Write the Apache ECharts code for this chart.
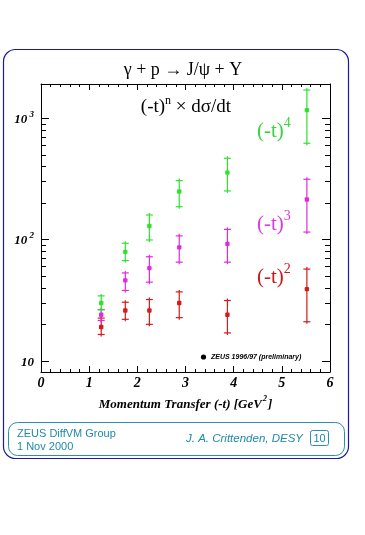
<!DOCTYPE html>
<html><head><meta charset="utf-8">
<script src="https://cdn.jsdelivr.net/npm/echarts@6/dist/echarts.min.js"></script>
<style>html,body{margin:0;padding:0;background:#fff}#c{width:365px;height:535px}</style>
</head><body><div id="c"></div>
<script>
// ---- data ----
const tValues = [1.25, 1.75, 2.25, 2.87, 3.87, 5.52];
// (-t)^2 x dsigma/dt  (red)
const n2Val = [19, 26, 26, 30, 24, 39];
const n2Lo  = [16.5, 22, 20, 22.7, 17, 21];
const n2Hi  = [22.5, 30.4, 32, 37, 31.4, 57];
// (-t)^3 x dsigma/dt  (magenta)
const n3Val = [24, 46, 58, 86, 92, 213];
const n3Lo  = [21.5, 38, 44.5, 65, 65, 115];
const n3Hi  = [26.5, 53, 72, 107, 121, 313];
// (-t)^4 x dsigma/dt  (green)
const n4Val = [30, 79, 129, 248, 355, 1160];
const n4Lo  = [26.3, 67, 99, 186, 251, 620];
const n4Hi  = [34.3, 93, 159, 305, 466, 1700];
const xTicks = [0, 1, 2, 3, 4, 5, 6];
const yMajorTicks = [10, 100, 1000];
const yMinorTicks = [20, 30, 40, 50, 60, 70, 80, 90, 200, 300, 400, 500, 600, 700, 800, 900];

const chart = echarts.init(document.getElementById('c'), null, {renderer: 'canvas'});
const serif = "'Liberation Serif', 'DejaVu Serif', serif";
const sans = "'Liberation Sans', 'DejaVu Sans', sans-serif";

function rows(v, lo, hi) { return tValues.map((t, i) => [t, v[i], lo[i], hi[i]]); }

function errRender(color) {
  return function (params, api) {
    const t = api.value(0);
    const p = api.coord([t, api.value(1)]);
    const pl = api.coord([t, api.value(2)]);
    const ph = api.coord([t, api.value(3)]);
    const cap = 3.5, ext = 2;
    const st = {stroke: color, lineWidth: 1.2};
    return {type: 'group', children: [
      {type: 'line', shape: {x1: p[0], y1: ph[1] - ext, x2: p[0], y2: pl[1] + ext}, style: st},
      {type: 'line', shape: {x1: p[0] - cap, y1: ph[1], x2: p[0] + cap, y2: ph[1]}, style: st},
      {type: 'line', shape: {x1: p[0] - cap, y1: pl[1], x2: p[0] + cap, y2: pl[1]}, style: st},
      {type: 'rect', shape: {x: p[0] - 2.2, y: p[1] - 2.2, width: 4.4, height: 4.4, r: 1}, style: {fill: color}}
    ]};
  };
}

function minorRender(params, api) {
  const v = api.value(1);
  const l = api.coord([0, v]);
  const r = api.coord([6, v]);
  const y = Math.round(l[1]) + 0.5;
  const st = {stroke: '#000', lineWidth: 1};
  return {type: 'group', children: [
    {type: 'line', shape: {x1: l[0], y1: y, x2: l[0] + 5, y2: y}, style: st},
    {type: 'line', shape: {x1: r[0] - 5, y1: y, x2: r[0], y2: y}, style: st}
  ]};
}

const axisLabelFont = {fontFamily: serif, fontWeight: 'bold', fontStyle: 'italic', color: '#000'};

const option = {
  animation: false,
  backgroundColor: '#fff',
  grid: {left: 41, top: 84, width: 289, height: 288, show: false},
  xAxis: [{
    type: 'value', min: 0, max: 6, interval: 1, position: 'bottom',
    axisLine: {show: true, onZero: false, lineStyle: {color: '#000', width: 1}},
    axisTick: {show: true, inside: true, length: 6, lineStyle: {color: '#000'}},
    minorTick: {show: true, splitNumber: 5, length: 3, lineStyle: {color: '#000'}},
    splitLine: {show: false},
    axisLabel: Object.assign({fontSize: 14, margin: 4, formatter: v => xTicks.indexOf(v) >= 0 ? String(v) : ''}, axisLabelFont),
    name: '{m|Momentum Transfer (-t) [GeV}{s|2}{m|]}', nameLocation: 'middle', nameGap: 15,
    nameTextStyle: {rich: {
      m: Object.assign({fontSize: 13, lineHeight: 16, verticalAlign: 'bottom'}, axisLabelFont),
      s: Object.assign({fontSize: 8, lineHeight: 16, verticalAlign: 'top', padding: [0, 1, 0, 1]}, axisLabelFont)
    }}
  }, {
    type: 'value', min: 0, max: 6, interval: 1, position: 'top',
    axisLine: {show: true, onZero: false, lineStyle: {color: '#000', width: 1}},
    axisTick: {show: true, inside: true, length: 6, lineStyle: {color: '#000'}},
    minorTick: {show: true, splitNumber: 5, length: 3, lineStyle: {color: '#000'}},
    splitLine: {show: false}, axisLabel: {show: false}
  }],
  yAxis: [{
    type: 'log', logBase: 10, min: 8.1, max: 1905, position: 'left',
    axisLine: {show: true, onZero: false, lineStyle: {color: '#000', width: 1}},
    axisTick: {show: true, inside: true, length: 8, lineStyle: {color: '#000'}},
    splitLine: {show: false},
    axisLabel: {
      margin: 7,
      formatter: function (v) {
        const r = Math.round(v);
        if (Math.abs(v - r) > 1e-6 || yMajorTicks.indexOf(r) < 0) return '';
        if (r === 10) return '{b|10}';
        return '{b|10}{s| ' + Math.round(Math.log10(r)) + '}';
      },
      rich: {
        b: Object.assign({fontSize: 13, lineHeight: 16, verticalAlign: 'bottom'}, axisLabelFont),
        s: Object.assign({fontSize: 9, lineHeight: 16, verticalAlign: 'top'}, axisLabelFont)
      }
    }
  }, {
    type: 'log', logBase: 10, min: 8.1, max: 1905, position: 'right',
    axisLine: {show: true, onZero: false, lineStyle: {color: '#000', width: 1}},
    axisTick: {show: true, inside: true, length: 8, lineStyle: {color: '#000'}},
    splitLine: {show: false}, axisLabel: {show: false}
  }],
  series: [
    {type: 'custom', xAxisIndex: 0, yAxisIndex: 0, data: yMinorTicks.map(v => [3, v]), encode: {x: 0, y: 1}, renderItem: minorRender, clip: false, z: 5},
    {type: 'custom', name: 'n2', xAxisIndex: 0, yAxisIndex: 0, data: rows(n2Val, n2Lo, n2Hi), encode: {x: 0, y: [1, 2, 3]}, renderItem: errRender('#d41a1a'), clip: false},
    {type: 'custom', name: 'n3', xAxisIndex: 0, yAxisIndex: 0, data: rows(n3Val, n3Lo, n3Hi), encode: {x: 0, y: [1, 2, 3]}, renderItem: errRender('#e02ae0'), clip: false},
    {type: 'custom', name: 'n4', xAxisIndex: 0, yAxisIndex: 0, data: rows(n4Val, n4Lo, n4Hi), encode: {x: 0, y: [1, 2, 3]}, renderItem: errRender('#2ee22e'), clip: false}
  ],
  graphic: [
    // outer frame
    {type: 'rect', z: -10, shape: {x: 3.5, y: 49.5, width: 345, height: 409, r: 12}, style: {fill: 'none', stroke: '#1a1aa0', lineWidth: 1.2}},
    // footer box
    {type: 'rect', shape: {x: 8.5, y: 422.5, width: 336, height: 33, r: 9}, style: {fill: 'none', stroke: '#2a8fb0', lineWidth: 1}},
    {type: 'rect', shape: {x: 310.5, y: 430.5, width: 18, height: 15, r: 2}, style: {fill: 'none', stroke: '#2a8fb0', lineWidth: 1}},
    {type: 'text', x: 319.5, y: 438.5, style: {text: '10', font: '11px ' + sans, fill: '#1f8aa8', align: 'center', verticalAlign: 'middle'}},
    {type: 'text', x: 17, y: 434, style: {text: 'ZEUS DiffVM Group', font: '11px ' + sans, fill: '#1f8aa8', verticalAlign: 'middle'}},
    {type: 'text', x: 17, y: 447, style: {text: '1 Nov 2000', font: '11px ' + sans, fill: '#1f8aa8', verticalAlign: 'middle'}},
    {type: 'text', x: 303, y: 439, style: {text: 'J. A. Crittenden, DESY', font: 'italic 11.5px ' + sans, fill: '#1f8aa8', align: 'right', verticalAlign: 'middle'}},
    // title
    {type: 'text', x: 183, y: 70, style: {text: 'γ + p → J/ψ + Y', font: '18px ' + serif, fill: '#000', align: 'center', verticalAlign: 'middle'}},
    // subtitle
    {type: 'text', x: 186, y: 106, style: {
      text: '{m|(-t)}{s|n}{m| × dσ/dt}', align: 'center', verticalAlign: 'middle',
      rich: {m: {fontFamily: serif, fontSize: 19, lineHeight: 22, verticalAlign: 'bottom', fill: '#000'},
             s: {fontFamily: serif, fontSize: 12, lineHeight: 22, verticalAlign: 'top', fill: '#000'}}
    }},
    // series labels
    {type: 'text', x: 257, y: 129, style: {
      text: '{m|(-t)}{s|4}', verticalAlign: 'middle',
      rich: {m: {fontFamily: serif, fontSize: 21, lineHeight: 26, verticalAlign: 'bottom', fill: '#3cd23c'},
             s: {fontFamily: serif, fontSize: 14, lineHeight: 26, verticalAlign: 'top', fill: '#3cd23c'}}
    }},
    {type: 'text', x: 257, y: 222, style: {
      text: '{m|(-t)}{s|3}', verticalAlign: 'middle',
      rich: {m: {fontFamily: serif, fontSize: 21, lineHeight: 26, verticalAlign: 'bottom', fill: '#d83cd8'},
             s: {fontFamily: serif, fontSize: 14, lineHeight: 26, verticalAlign: 'top', fill: '#d83cd8'}}
    }},
    {type: 'text', x: 257, y: 275, style: {
      text: '{m|(-t)}{s|2}', verticalAlign: 'middle',
      rich: {m: {fontFamily: serif, fontSize: 21, lineHeight: 26, verticalAlign: 'bottom', fill: '#cc1818'},
             s: {fontFamily: serif, fontSize: 14, lineHeight: 26, verticalAlign: 'top', fill: '#cc1818'}}
    }},
    // legend
    {type: 'circle', shape: {cx: 203.5, cy: 357, r: 2.6}, style: {fill: '#000'}},
    {type: 'text', x: 211, y: 357, style: {text: 'ZEUS 1996/97 (preliminary)', font: 'italic bold 7px ' + sans, fill: '#000', verticalAlign: 'middle'}}
  ]
};
chart.setOption(option);
</script>
</body></html>
